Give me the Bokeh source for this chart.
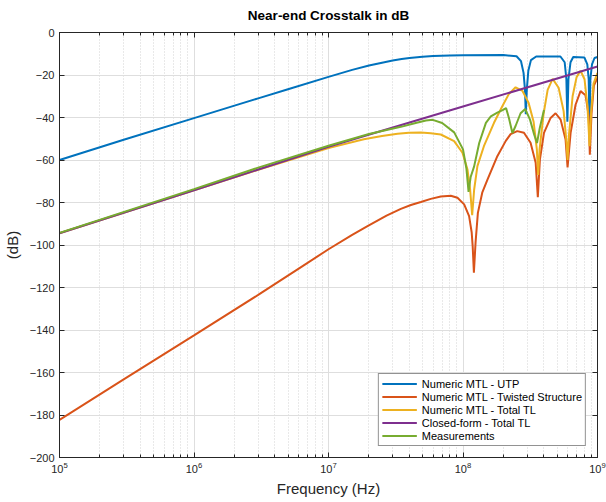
from bokeh.plotting import figure
from bokeh.models import LogAxis, LinearAxis, Legend, LegendItem, FixedTicker
from bokeh.embed import file_html
from bokeh.resources import INLINE

# ---------------- data ----------------
utp_f = [1e5, 3e5, 1e6, 2e6, 3e6, 5e6, 1e7, 1.5e7, 2e7, 2.5e7, 3e7, 3.5e7, 4e7, 5e7, 6e7, 8e7,
         1e8, 2e8, 2.5e8, 2.7e8, 2.82e8, 2.89e8, 2.93e8, 2.98e8, 3.06e8, 3.2e8, 3.5e8, 5.3e8,
         5.7e8, 5.87e8, 5.97e8, 6.08e8, 6.3e8, 6.6e8, 8.0e8, 8.4e8, 8.6e8, 8.72e8, 8.85e8,
         9.1e8, 9.5e8, 1e9]
utp_db = [-60, -50.5, -40.3, -34.4, -31, -26.7, -20.9, -17.6, -15.5, -14.2, -13.2, -12.5, -12.0,
          -11.4, -11.1, -10.8, -10.7, -10.6, -11.2, -13.5, -19, -27, -38.5, -27, -18, -13, -11.3,
          -11.3, -14, -22, -42, -22, -14, -11.5, -11.8, -15, -22, -44, -22, -15, -12, -11.5]

twisted_f = [1e5, 3e5, 1e6, 3e6, 6.25e6, 1e7, 1.5e7, 1.95e7, 2.7e7, 3.45e7, 4.1e7, 4.86e7,
             5.76e7, 6.84e7, 8.11e7, 9.1e7, 1.02e8, 1.11e8, 1.16e8, 1.18e8, 1.205e8, 1.24e8,
             1.29e8, 1.39e8, 1.52e8, 1.80e8, 2.08e8, 2.26e8, 2.53e8, 2.84e8, 3.18e8, 3.47e8,
             3.60e8, 3.73e8, 4.0e8, 4.48e8, 4.88e8, 5.32e8, 5.79e8, 5.99e8, 6.31e8, 6.87e8,
             7.48e8, 8.15e8, 8.61e8, 8.77e8, 9.03e8, 9.4e8, 1e9]
twisted_db = [-182.3, -163.2, -142.5, -123.5, -110.4, -102, -95.2, -91.1, -86.2, -83, -81.2,
              -79.8, -78.3, -77.2, -76.8, -77.8, -80.9, -86.4, -94, -100.5, -113, -98.8,
              -84.9, -75.4, -69.2, -58.2, -51, -47.8, -46.4, -47.2, -51.9, -61.3,
              -77.5, -59.8, -47.2, -40.2, -38, -41, -50.4, -63.5, -47.2, -34,
              -27.6, -29.5, -39.4, -57.5, -38, -25, -21.3]

total_f = [1e5, 1e6, 3e6, 1e7, 1.83e7, 2.5e7, 3.26e7, 3.96e7, 4.86e7, 5.76e7, 6.84e7, 8.59e7,
           9.91e7, 1.08e8, 1.13e8, 1.17e8, 1.21e8, 1.28e8, 1.43e8, 1.70e8, 1.96e8, 2.19e8,
           2.46e8, 2.77e8, 3.07e8, 3.35e8, 3.54e8, 3.62e8, 3.71e8, 3.98e8, 4.26e8, 4.64e8,
           5.14e8, 5.60e8, 5.89e8, 5.99e8, 6.14e8, 6.53e8, 6.99e8, 7.48e8, 8.01e8, 8.43e8,
           8.73e8, 8.96e8, 9.34e8, 1e9]
total_db = [-94.5, -74.3, -64.6, -54.4, -50.2, -48.7, -47.7, -47.2, -47.1, -47.4, -48, -51.1,
            -56.6, -64.5, -74, -86, -74, -62.9, -53.5, -42.5, -34.7, -29,
            -25.8, -27.5, -33, -42, -55, -67, -55, -38, -27, -21.8,
            -26, -37, -52, -60, -48, -30, -21, -18, -22, -35,
            -53.5, -38, -24, -19]

closed_f = [1e5, 1e6, 1e7, 1e8, 1e9]
closed_db = [-94.5, -74.2, -53.8, -34.8, -16]

meas_f = [1e5, 1e6, 3e6, 1e7, 2e7, 3.45e7, 4.45e7, 5.3e7, 5.96e7, 7.0e7, 8.6e7, 1.0e8,
          1.06e8, 1.10e8, 1.14e8, 1.21e8, 1.32e8, 1.48e8, 1.61e8, 1.80e8, 1.97e8, 2.09e8,
          2.19e8, 2.33e8, 2.46e8, 2.68e8, 2.90e8, 3.15e8, 3.38e8, 3.55e8, 3.72e8, 4.0e8]
meas_db = [-94.3, -73.7, -63.6, -53.3, -47.8, -44.4, -42.6, -41.4, -41.1, -42.6, -47, -55,
           -64, -75, -68, -63, -52, -42.5, -39.5, -37.7, -36.5, -35.6,
           -40, -47.3, -44, -38, -36, -41, -48, -52, -45, -36.5]

series_labels = ["Numeric MTL - UTP", "Numeric MTL - Twisted Structure", "Numeric MTL - Total TL",
                 "Closed-form - Total TL", "Measurements"]
series_colors = ["#0072BD", "#D95319", "#EDB120", "#7E2F8E", "#77AC30"]

x_ticks = [1e5, 1e6, 1e7, 1e8, 1e9]
x_minor = [m * d for d in [1e5, 1e6, 1e7, 1e8] for m in range(2, 10)]
y_ticks = list(range(-200, 1, 20))

FONT = "Liberation Sans"
AX = "#262626"

p = figure(frame_width=538, frame_height=425, x_axis_type="log", x_range=(1e5, 1e9),
           y_range=(-200, 0), output_backend="svg", toolbar_location=None,
           title="Near-end Crosstalk in dB",
           min_border_left=50, min_border_right=10, min_border_top=25, min_border_bottom=44)

p.title.align = "center"
p.title.vertical_align = "top"
p.title.text_font = FONT
p.title.text_font_size = "13.5px"
p.title.text_font_style = "bold"
p.title.text_color = "black"
p.title.standoff = 15

p.outline_line_color = AX
p.background_fill_color = "white"

xt = FixedTicker(ticks=x_ticks, minor_ticks=x_minor)
yt = FixedTicker(ticks=y_ticks)

for ax in [p.xaxis[0], p.yaxis[0]]:
    ax.major_tick_in = 5
    ax.major_tick_out = 0
    ax.minor_tick_in = 3
    ax.minor_tick_out = 0
    ax.axis_line_color = AX
    ax.major_tick_line_color = AX
    ax.minor_tick_line_color = AX
    ax.major_label_text_font = FONT
    ax.major_label_text_font_size = "11px"
    ax.major_label_text_color = AX
    ax.axis_label_text_font = FONT
    ax.axis_label_text_font_size = "15px"
    ax.axis_label_text_font_style = "normal"
    ax.axis_label_text_color = AX

p.xaxis.ticker = xt
p.yaxis.ticker = yt
p.yaxis.minor_tick_line_color = None
p.xaxis.axis_label = "Frequency (Hz)"
p.yaxis.axis_label = "(dB)"
p.xaxis.major_label_standoff = 4
p.xaxis.axis_label_standoff = 4
p.yaxis.major_label_standoff = 5
p.yaxis.axis_label_standoff = 6

top = LogAxis(ticker=xt, major_label_text_font_size="1px", major_label_text_color=None,
              major_label_standoff=0,
              major_tick_in=5, major_tick_out=0, minor_tick_in=3, minor_tick_out=0,
              axis_line_color=AX, major_tick_line_color=AX, minor_tick_line_color=AX)
right = LinearAxis(ticker=yt, major_label_text_font_size="1px", major_label_text_color=None,
                   major_label_standoff=0,
                   major_tick_in=5, major_tick_out=0, minor_tick_line_color=None,
                   axis_line_color=AX, major_tick_line_color=AX)
p.add_layout(top, "above")
p.add_layout(right, "right")

p.xgrid.grid_line_color = "#dedede"
p.xgrid.minor_grid_line_color = "#d2d2d2"
p.xgrid.minor_grid_line_dash = "1 2"
p.ygrid.grid_line_color = "#dedede"

data = [(utp_f, utp_db), (twisted_f, twisted_db), (total_f, total_db),
        (closed_f, closed_db), (meas_f, meas_db)]
items = []
for (f, db), lab, col in zip(data, series_labels, series_colors):
    r = p.line(f, db, line_color=col, line_width=2)
    items.append(LegendItem(label=lab, renderers=[r]))

legend = Legend(items=items, location="bottom_right", margin=11, padding=3, spacing=0,
                label_text_font=FONT, label_text_font_size="11px", label_text_color="black",
                label_height=13, glyph_height=13, glyph_width=35, label_standoff=5,
                border_line_color=AX, border_line_width=1, background_fill_alpha=1)
p.add_layout(legend)

open("out.html", "w").write(file_html(p, INLINE))
